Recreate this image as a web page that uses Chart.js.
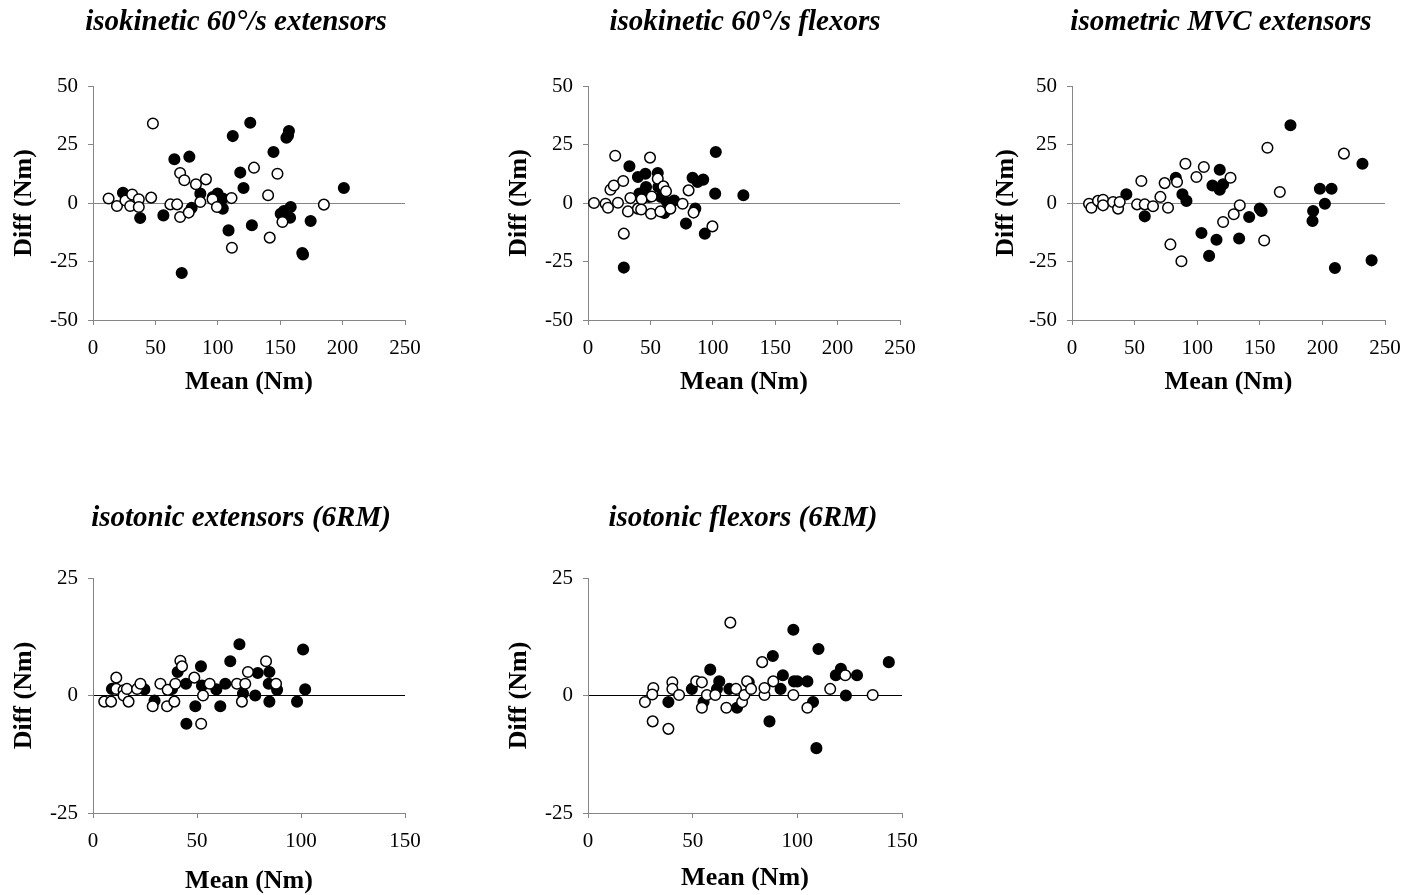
<!DOCTYPE html>
<html>
<head>
<meta charset="utf-8">
<script src="https://cdn.jsdelivr.net/npm/chart.js@4.4.0/dist/chart.umd.min.js"></script>
<style>
  body { margin: 0; background: #fff; overflow: hidden; width: 1406px; height: 895px; position: relative; }
  canvas { position: absolute; }
</style>
</head>
<body>
<canvas id="p1"></canvas>
<canvas id="p2"></canvas>
<canvas id="p3"></canvas>
<canvas id="p4"></canvas>
<canvas id="p5"></canvas>
<script>
// isokinetic 60°/s extensors
const ext60OpenMean = [48, 12.5, 19.2, 26, 31.4, 29.8, 36.7, 36.7, 46.6, 62, 67.4, 69.8, 73.2, 69.8, 76.7, 82.5, 90.5, 86, 95.8, 99.3, 111, 111.3, 129, 140.3, 141.6, 147.8, 151.8, 185];
const ext60OpenDiff = [34, 1.9, -1.3, 1.1, 3.6, -1.3, 1.6, -1.7, 2.3, -0.6, -0.6, 12.8, 9.7, -6, -4.1, 8, 10.1, 0.4, 1.6, -1.7, 2.1, -19.1, 15.1, 3.3, -14.8, 12.5, -8.1, -0.7];
const ext60FillMean = [24, 37.8, 56.4, 65.2, 77.2, 71.1, 79, 86, 96, 99.8, 104, 104, 108.6, 112, 118, 120.6, 126, 127.3, 144.6, 155, 157, 156.3, 158.4, 153, 150.4, 157.9, 167.7, 168.3, 174.4, 201];
const ext60FillDiff = [4.4, -6.4, -5.3, 18.7, 19.8, -29.9, -2.1, 4, 2.5, 4, 1.9, -2.4, -11.7, 28.6, 13, 6.4, 34.3, -9.5, 21.8, 27.9, 30.8, 28.9, -1.7, -3.4, -4.6, -6.3, -21.4, -22, -7.7, 6.4];

// isokinetic 60°/s flexors
const flx60OpenMean = [4.8, 14.1, 16, 21.8, 18, 20.7, 28.2, 24, 28.7, 32, 34, 40, 43, 42.6, 49.7, 50.5, 51, 55.9, 58, 60.4, 62.5, 66, 75.8, 80.6, 84.6, 99.7];
const flx60OpenDiff = [0, -0.3, -2, 20.2, 5.7, 7.5, 9.4, 0.1, -13.1, -3.6, 2.1, -2.4, 1.6, -2.8, 19.4, -4.6, 2.8, 10.4, -3.6, 7.1, 5, -2.4, -0.3, 5.4, -4.1, -10];
const flx60FillMean = [33.2, 28.7, 40, 46, 41.2, 46.5, 48.7, 55.9, 56.4, 58.5, 61.2, 63.3, 69, 78.5, 86, 83.8, 87.8, 92.3, 93.6, 102.4, 101.9, 124.5];
const flx60FillDiff = [15.7, -27.6, 11.1, 12.5, 4, 6.8, 2.6, 12.8, 6.8, 2.6, -4.3, 0.4, 1.1, -8.8, -2.4, 10.8, 9, 10, -13.1, 21.8, 4, 3.3];

// isometric MVC extensors
const mvcOpenMean = [13.6, 15.5, 20.8, 24.8, 24.8, 32.8, 36.8, 38.1, 52, 55.4, 58.1, 64.7, 70.6, 74, 76.7, 78.6, 83.9, 87.4, 90.6, 99.4, 105.3, 120.7, 126.6, 129.2, 134, 153.5, 156.1, 166, 217.2];
const mvcOpenDiff = [-0.3, -2, 0.9, 1.4, -1, 0.4, -2.4, 0.4, -0.6, 9.4, -0.6, -1.4, 2.6, 8.5, -2, -17.7, 9, -24.9, 16.8, 11.1, 15.4, -8.1, 10.8, -4.8, -1, -16, 23.6, 4.7, 21.1];
const mvcFillMean = [43.4, 58.1, 82.9, 88.2, 91.4, 103.4, 109.5, 112.2, 115.4, 118, 118, 120.7, 133.5, 141.5, 150, 151.4, 174.5, 192.6, 192.1, 198, 202, 207.3, 210, 232, 239.3];
const mvcFillDiff = [3.7, -5.7, 10.8, 3.7, 0.9, -12.8, -22.6, 7.5, -15.7, 14.2, 5.7, 8, -15.2, -6, -2.4, -3.4, 33.2, -3.4, -7.7, 6.1, -0.3, 6.1, -27.8, 16.8, -24.5];

// isotonic extensors (6RM)
const iteOpenMean = [5.4, 8.7, 11.2, 11.2, 14.7, 14.7, 17.1, 16.3, 21.2, 22.8, 28.7, 32.4, 35.6, 35.9, 39.1, 39.6, 42, 42.8, 48.7, 52.9, 52, 56.1, 69.2, 71.6, 73.2, 74.5, 83.2, 88];
const iteOpenDiff = [-1.3, -1.3, 3.8, 1.4, 1.1, 0, -1.3, 1.4, 1.4, 2.5, -2.3, 2.5, -2.3, 1.2, -1.3, 2.5, 7.4, 6.2, 3.8, 0, -6, 2.5, 2.5, -1.3, 2.5, 5, 7.3, 2.5];
const iteFillMean = [9.1, 24.7, 29.6, 38, 40.7, 44.7, 44.9, 49.2, 51.9, 52.4, 59.3, 61.2, 63.6, 66, 70.4, 72.1, 78, 79.2, 84.8, 84.8, 84.5, 88.5, 98.1, 101, 102];
const iteFillDiff = [1.4, 1.3, -1.1, 1.4, 5, 2.5, -6, -2.3, 6.2, 2.1, 1.3, -2.3, 2.5, 7.3, 10.9, 0.4, 0, 4.8, 5, -1.3, 2.5, 1.2, -1.3, 9.8, 1.3];

// isotonic flexors (6RM)
const itfOpenMean = [27.2, 31.2, 30.7, 30.9, 38.4, 40.3, 40.3, 43.5, 51.7, 54.4, 54.4, 56.8, 60.8, 66.1, 68, 70.7, 73.6, 74.7, 76, 77.9, 83.2, 84.3, 84.3, 88.5, 98.1, 104.8, 115.7, 122.9, 136];
const itfOpenDiff = [-1.4, 1.6, 0.2, -5.5, -7.1, 2.8, 1.4, 0.1, 3, 2.8, -2.6, 0.1, 0.1, -2.6, 15.5, 1.4, -1.4, 0.1, 3, 1.4, 7.1, 0.1, 1.6, 3, 0.1, -2.6, 1.4, 4.3, 0.1];
const itfFillMean = [38.4, 49.6, 55.2, 58.4, 62.7, 61.6, 67.5, 71.2, 76.8, 86.7, 88.3, 92, 93.1, 98.1, 98.4, 100, 104.8, 107.5, 109.1, 110.1, 118.4, 120.8, 123.2, 128.5, 143.7];
const itfFillDiff = [-1.4, 1.4, -1.4, 5.5, 3, 1.4, 1.4, -2.6, 2.8, -5.5, 8.4, 1.4, 4.3, 14, 3, 3, 3, -1.4, -11.2, 9.9, 4.3, 5.7, 0, 4.3, 7.1];

const FONT = '"Liberation Serif", "Times New Roman", serif';
const AXIS = "#868686";
const TICK_SIZE = 21;
const LABEL_SIZE = 26;
Chart.defaults.font.family = FONT;
Chart.defaults.color = "#000";

// title drawn at a fixed spot, the picture's titles are not centred on the plot
const panelTitle = {
  id: "panelTitle",
  afterDraw(chart, args, opts) {
    const ctx = chart.ctx;
    ctx.save();
    ctx.font = "italic bold 29px " + FONT;
    ctx.fillStyle = "#000";
    ctx.textAlign = "center";
    ctx.textBaseline = "middle";
    ctx.fillText(opts.text, opts.x, opts.y);
    ctx.restore();
  },
};

function toPoints(xs, ys) {
  return xs.map((x, i) => ({ x: x, y: ys[i] }));
}

function makePanel(p) {
  const canvas = document.getElementById(p.id);
  canvas.width = p.w;
  canvas.height = p.h;
  canvas.style.left = p.left + "px";
  canvas.style.top = p.top + "px";
  const yMax = p.yMax;
  const halfLabel = (LABEL_SIZE * 1.2) / 2;
  const halfTick = (TICK_SIZE * 1.2) / 2;

  new Chart(canvas.getContext("2d"), {
    type: "scatter",
    data: {
      datasets: [
        {
          data: toPoints(p.openX, p.openY),
          pointRadius: 5.3,
          pointBackgroundColor: "#fff",
          pointBorderColor: "#000",
          pointBorderWidth: 1.5,
        },
        {
          data: toPoints(p.fillX, p.fillY),
          pointRadius: 5.3,
          pointBackgroundColor: "#000",
          pointBorderColor: "#000",
          pointBorderWidth: 1.5,
        },
      ],
    },
    options: {
      responsive: false,
      animation: false,
      devicePixelRatio: 1,
      layout: {
        padding: { left: 0, top: p.plotTop - p.top, right: p.left + p.w - p.plotRight, bottom: 0 },
      },
      plugins: {
        legend: { display: false },
        tooltip: { enabled: false },
        panelTitle: { text: p.title, x: p.titleX - p.left, y: p.titleY - p.top },
      },
      scales: {
        x: {
          type: "linear",
          min: 0,
          max: p.xMax,
          ticks: { stepSize: 50, padding: 348 - 320 - 5 - halfTick, font: { size: TICK_SIZE }, color: "#000" },
          grid: { drawOnChartArea: false, tickLength: 5, color: AXIS, tickColor: AXIS },
          border: { color: AXIS, width: 1 },
          title: {
            display: true,
            text: "Mean (Nm)",
            font: { size: LABEL_SIZE, weight: "bold" },
            color: "#000",
            padding: { top: 0, bottom: p.top + p.h - p.xTitleY - halfLabel },
          },
          afterFit: (s) => {
            s.height = p.top + p.h - p.plotBottom;
            s.paddingLeft = 0;
            s.paddingRight = 0;
          },
        },
        y: {
          min: -yMax,
          max: yMax,
          ticks: { stepSize: 25, padding: 10, font: { size: TICK_SIZE }, color: "#000" },
          grid: {
            tickLength: 5,
            color: (ctx) => (ctx.tick && ctx.tick.value === 0 ? p.zeroColor : "rgba(0,0,0,0)"),
            tickColor: AXIS,
          },
          border: { color: AXIS, width: 1 },
          title: {
            display: true,
            text: "Diff (Nm)",
            font: { size: LABEL_SIZE, weight: "bold" },
            color: "#000",
            padding: { top: p.yTitleX - p.left - halfLabel, bottom: 0 },
          },
          afterFit: (s) => {
            s.width = p.plotLeft - p.left;
            s.paddingTop = 0;
            s.paddingBottom = 0;
          },
        },
      },
    },
    plugins: [panelTitle],
  });
}

makePanel({
  id: "p1", left: 0, top: 0, w: 440, h: 405,
  plotLeft: 93, plotRight: 405, plotTop: 86, plotBottom: 320,
  title: "isokinetic 60°/s extensors", titleX: 236, titleY: 23,
  yTitleX: 24, xTitleY: 382, xMax: 250, yMax: 50, zeroColor: AXIS,
  openX: ext60OpenMean, openY: ext60OpenDiff, fillX: ext60FillMean, fillY: ext60FillDiff,
});

makePanel({
  id: "p2", left: 490, top: 0, w: 450, h: 405,
  plotLeft: 588, plotRight: 900, plotTop: 86, plotBottom: 320,
  title: "isokinetic 60°/s flexors", titleX: 745, titleY: 23,
  yTitleX: 519.5, xTitleY: 382, xMax: 250, yMax: 50, zeroColor: AXIS,
  openX: flx60OpenMean, openY: flx60OpenDiff, fillX: flx60FillMean, fillY: flx60FillDiff,
});

makePanel({
  id: "p3", left: 980, top: 0, w: 426, h: 405,
  plotLeft: 1072, plotRight: 1385, plotTop: 86, plotBottom: 320,
  title: "isometric MVC extensors", titleX: 1221, titleY: 23,
  yTitleX: 1006, xTitleY: 382, xMax: 250, yMax: 50, zeroColor: AXIS,
  openX: mvcOpenMean, openY: mvcOpenDiff, fillX: mvcFillMean, fillY: mvcFillDiff,
});

makePanel({
  id: "p4", left: 0, top: 490, w: 440, h: 405,
  plotLeft: 93, plotRight: 405, plotTop: 578, plotBottom: 813,
  title: "isotonic extensors (6RM)", titleX: 241, titleY: 519,
  yTitleX: 24, xTitleY: 881, xMax: 150, yMax: 25, zeroColor: "#000",
  openX: iteOpenMean, openY: iteOpenDiff, fillX: iteFillMean, fillY: iteFillDiff,
});

makePanel({
  id: "p5", left: 490, top: 490, w: 450, h: 405,
  plotLeft: 588, plotRight: 902, plotTop: 578, plotBottom: 813,
  title: "isotonic flexors (6RM)", titleX: 743, titleY: 519,
  yTitleX: 519.5, xTitleY: 878, xMax: 150, yMax: 25, zeroColor: "#000",
  openX: itfOpenMean, openY: itfOpenDiff, fillX: itfFillMean, fillY: itfFillDiff,
});
</script>
</body>
</html>
